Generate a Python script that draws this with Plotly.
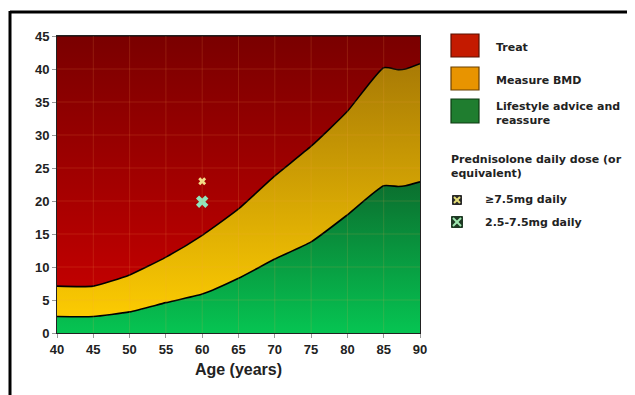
import plotly.graph_objects as go

# ---- data ----
ages = [40, 45, 50, 55, 60, 65, 70, 75, 80, 85, 87, 88, 90]
lifestyle_upper = [2.5, 2.5, 3.2, 4.6, 5.9, 8.3, 11.2, 13.8, 17.9, 22.3, 22.2, 22.3, 22.9]
bmd_upper = [7.1, 7.1, 8.8, 11.5, 14.8, 18.8, 23.8, 28.3, 33.6, 40.2, 39.9, 40.0, 40.8]
treat_upper = [45] * len(ages)

dose_labels = ["≥7.5mg daily", "2.5-7.5mg daily"]
dose_age = [60, 60]
dose_threshold = [23.0, 19.9]

x_ticks = [40, 45, 50, 55, 60, 65, 70, 75, 80, 85, 90]
y_ticks = [0, 5, 10, 15, 20, 25, 30, 35, 40, 45]

category_names = ["Treat", "Measure BMD", "Lifestyle advice and<br>reassure"]

# ---- layout helpers (page pixel coordinates; page body has an 8px offset) ----
OFF = 8
W, H = 635 - OFF, 395 - OFF
L, R, T, B = 57, 420, 36, 333


def px(x):
    return (x - L) / (R - L)


def py(y):
    return (B - y) / (B - T)


FONT = "Liberation Sans, Arial, sans-serif"
LFONT = "DejaVu Sans, Verdana, sans-serif"
fig = go.Figure()

fig.add_trace(go.Scatter(
    x=ages, y=lifestyle_upper, mode="lines", fill="tozeroy",
    line=dict(color="#000", width=1.6, shape="spline", smoothing=0.5),
    fillgradient=dict(type="vertical", colorscale=[[0, "#06c452"], [1, "#0b6e2e"]],
                      start=0, stop=23),
    showlegend=False, hoverinfo="skip"))
fig.add_trace(go.Scatter(
    x=ages, y=bmd_upper, mode="lines", fill="tonexty",
    line=dict(color="#000", width=1.6, shape="spline", smoothing=0.5),
    fillgradient=dict(type="vertical", colorscale=[[0, "#fbca02"], [1, "#a87a05"]],
                      start=3, stop=41),
    showlegend=False, hoverinfo="skip"))
fig.add_trace(go.Scatter(
    x=ages, y=treat_upper, mode="lines", fill="tonexty",
    line=dict(color="#111", width=1),
    fillgradient=dict(type="vertical", colorscale=[[0, "#c00000"], [1, "#7a0000"]],
                      start=7, stop=45),
    showlegend=False, hoverinfo="skip"))

# dose markers
fig.add_trace(go.Scatter(
    x=[dose_age[0]], y=[dose_threshold[0]], mode="markers",
    marker=dict(symbol="x", size=7, color="#f3dc88", line=dict(width=0)),
    showlegend=False, hoverinfo="skip"))
fig.add_trace(go.Scatter(
    x=[dose_age[1]], y=[dose_threshold[1]], mode="markers",
    marker=dict(symbol="x", size=11, color="#8fe6bd", line=dict(width=0)),
    showlegend=False, hoverinfo="skip"))

shapes = []
# grid lines drawn above fills
for xv in x_ticks[1:-1]:
    shapes.append(dict(type="line", xref="x", yref="y", x0=xv, x1=xv, y0=0, y1=45,
                       line=dict(color="rgba(255,170,80,0.16)", width=1), layer="above"))
for yv in y_ticks[1:-1]:
    shapes.append(dict(type="line", xref="x", yref="y", x0=40, x1=90, y0=yv, y1=yv,
                       line=dict(color="rgba(255,170,80,0.16)", width=1), layer="above"))

# outer frame (top and left)
shapes.append(dict(type="line", xref="paper", yref="paper", x0=px(10), x1=px(640),
                   y0=py(12), y1=py(12), line=dict(color="#000", width=3)))
shapes.append(dict(type="line", xref="paper", yref="paper", x0=px(10), x1=px(10),
                   y0=py(11), y1=py(400), line=dict(color="#000", width=3)))

# legend swatches
sw_colors = [("#c41a00", "#5a1000"), ("#e89400", "#6a4000"), ("#1f7d2f", "#0e3a12")]
sw_y = [(34, 57), (67, 90), (99, 123)]
for (fc, lc), (y0, y1) in zip(sw_colors, sw_y):
    shapes.append(dict(type="rect", xref="paper", yref="paper", x0=px(451), x1=px(479),
                       y0=py(y1), y1=py(y0), fillcolor=fc, line=dict(color=lc, width=1.2)))

# legend dose icons
icons = [(457, 200, 4.5, "#e6e07a", "#2a2a2a"), (457, 222, 5.5, "#9fe8b0", "#1e3a24")]
for cx, cy, hs, fc, lc in icons:
    shapes.append(dict(type="rect", xref="paper", yref="paper", x0=px(cx - hs), x1=px(cx + hs),
                       y0=py(cy + hs), y1=py(cy - hs), fillcolor=lc, line=dict(color=lc, width=1)))
    d = hs - 1.5
    shapes.append(dict(type="line", xref="paper", yref="paper", x0=px(cx - d), x1=px(cx + d),
                       y0=py(cy + d), y1=py(cy - d), line=dict(color=fc, width=2)))
    shapes.append(dict(type="line", xref="paper", yref="paper", x0=px(cx - d), x1=px(cx + d),
                       y0=py(cy - d), y1=py(cy + d), line=dict(color=fc, width=2)))

annotations = []
txt_font = dict(family=LFONT, size=11, color="#222")
for name, yc in zip(category_names, [47, 80, 113]):
    annotations.append(dict(xref="paper", yref="paper", x=px(494), y=py(yc), text="<b>%s</b>" % name,
                            showarrow=False, xanchor="left", yanchor="middle", align="left",
                            font=txt_font))
annotations.append(dict(xref="paper", yref="paper", x=px(449), y=py(166),
                        text="<b>Prednisolone daily dose (or<br>equivalent)</b>",
                        showarrow=False, xanchor="left", yanchor="middle", align="left",
                        font=txt_font))
for lab, yc in zip(dose_labels, [200, 222]):
    annotations.append(dict(xref="paper", yref="paper", x=px(483), y=py(yc), text="<b>%s</b>" % lab,
                            showarrow=False, xanchor="left", yanchor="middle", align="left",
                            font=txt_font))

fig.update_layout(
    width=W, height=H,
    margin=dict(l=L - OFF, r=W - (R - OFF), t=T - OFF, b=H - (B - OFF)),
    paper_bgcolor="#fff", plot_bgcolor="#fff",
    shapes=shapes, annotations=annotations,
    xaxis=dict(range=[40, 90], tickvals=x_ticks, ticktext=["<b>%d</b>" % v for v in x_ticks],
               showgrid=False, zeroline=False, showline=True, linecolor="#222", linewidth=1,
               mirror=True, ticks="outside", ticklen=4, tickcolor="#999",
               tickfont=dict(family=FONT, size=13, color="#222"),
               title=dict(text="<b>Age (years)</b>", font=dict(family=FONT, size=16, color="#222"),
                          standoff=8)),
    yaxis=dict(range=[0, 45], tickvals=y_ticks, ticktext=["<b>%d</b>" % v for v in y_ticks],
               showgrid=False, zeroline=False, showline=True, linecolor="#222", linewidth=1,
               mirror=True, ticks="outside", ticklen=4, tickcolor="#999",
               tickfont=dict(family=FONT, size=13, color="#222")),
)

fig.write_html("out.html")
